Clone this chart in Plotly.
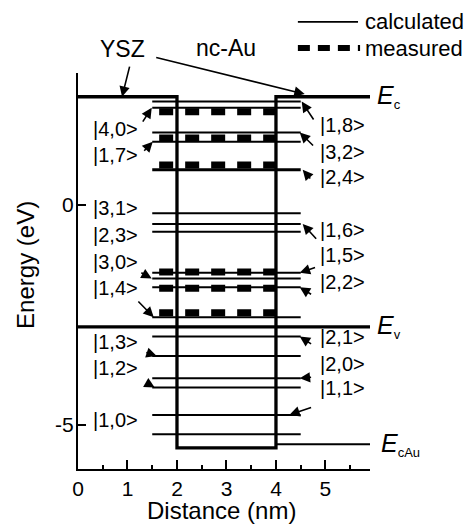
import plotly.graph_objects as go

# ---------------- data ----------------
distance_ticks = [0, 1, 2, 3, 4, 5]
energy_ticks = [-5, 0]

well_edges = [2.0, 4.0]          # nc-Au region (nm)
E_c = 2.46                       # YSZ conduction band edge (eV)
E_v = -2.77                      # valence band edge (eV)
E_well_bottom = -5.52            # bottom of nc-Au well (eV)
E_cAu = -5.44                    # Au conduction band edge (eV)

calc_span = [1.5, 4.5]           # extent of calculated level lines (nm)
meas_span = [1.64, 4.0]          # extent of measured level lines (nm)

calc_levels = [2.35, 2.21, 1.65, 1.44, 0.80, -0.19, -0.43, -0.61, -1.54,
               -1.67, -1.87, -2.55, -2.99, -3.43, -3.94, -4.15, -4.77, -5.21]
calc_labels = ["|1,8>", "|4,0>", "|3,2>", "|1,7>", "|2,4>", "|3,1>", "|1,6>",
               "|2,3>", "|1,5>", "|3,0>", "|2,2>", "|1,4>", "|2,1>", "|1,3>",
               "|2,0>", "|1,2>", "|1,1>", "|1,0>"]
meas_levels = [2.12, 1.52, 0.91, -1.52, -1.89, -2.45]

# ---------------- layout helpers (positions / styles) ----------------
X_MAX = 5.9
Y_MIN, Y_MAX = -6.0, 3.0
FONT = "Liberation Sans, Arial, sans-serif"
thick_labels = {"|2,4>"}

# side, label text y, arrow tail (x, y), arrow head x ; None = no arrow
label_layout = {
    "|4,0>": ("L", 1.73, (1.29, 1.86), 1.49),
    "|1,7>": ("L", 1.14, (1.31, 1.20), 1.51),
    "|3,1>": ("L", -0.07, None, None),
    "|2,3>": ("L", -0.68, None, None),
    "|3,0>": ("L", -1.30, (1.25, -1.52), 1.49),
    "|1,4>": ("L", -1.89, (1.19, -2.16), 1.53),
    "|1,3>": ("L", -3.11, (1.35, -3.34), 1.59),
    "|1,2>": ("L", -3.70, (1.35, -4.02), 1.55),
    "|1,0>": ("L", -4.89, None, None),
    "|1,8>": ("R", 1.82, (4.78, 1.91), 4.52),
    "|3,2>": ("R", 1.20, (4.78, 1.32), 4.48),
    "|2,4>": ("R", 0.64, (4.72, 0.57), 4.54),
    "|1,6>": ("R", -0.57, (4.84, -0.80), 4.54),
    "|1,5>": ("R", -1.14, (4.82, -1.41), 4.48),
    "|2,2>": ("R", -1.75, (4.74, -2.05), 4.48),
    "|2,1>": ("R", -3.00, (4.74, -3.18), 4.48),
    "|2,0>": ("R", -3.61, (4.74, -3.91), 4.48),
    "|1,1>": ("R", -4.16, (4.74, -4.59), 4.27),
}

fig = go.Figure()

common = dict(mode="lines", showlegend=False, hoverinfo="skip")

# measured levels (thick dashes)
mx, my = [], []
for e in meas_levels:
    mx += [meas_span[0], meas_span[1], None]
    my += [e, e, None]
fig.add_trace(go.Scatter(x=mx, y=my, line=dict(color="black", width=7, dash="14px,12px"), **common))

# calculated levels
cx, cy, tx, ty = [], [], [], []
for e, lab in zip(calc_levels, calc_labels):
    if lab in thick_labels:
        tx += [calc_span[0], calc_span[1], None]
        ty += [e, e, None]
    else:
        cx += [calc_span[0], calc_span[1], None]
        cy += [e, e, None]
fig.add_trace(go.Scatter(x=cx, y=cy, line=dict(color="black", width=2), **common))
fig.add_trace(go.Scatter(x=tx, y=ty, line=dict(color="black", width=3), **common))

# band structure
fig.add_trace(go.Scatter(
    x=[0, well_edges[0], well_edges[0], well_edges[1], well_edges[1], X_MAX],
    y=[E_c, E_c, E_well_bottom, E_well_bottom, E_c, E_c],
    line=dict(color="black", width=3.3), **common))
fig.add_trace(go.Scatter(x=[0, X_MAX], y=[E_v, E_v], line=dict(color="black", width=3.3), **common))
fig.add_trace(go.Scatter(x=[well_edges[1], X_MAX], y=[E_cAu, E_cAu], line=dict(color="black", width=2), **common))

ann = []
arrow = dict(showarrow=True, arrowhead=2, arrowsize=1.3, arrowwidth=1.6, arrowcolor="black",
             axref="x", ayref="y", xref="x", yref="y", text="", standoff=0)

LBL = dict(size=20, family=FONT, color="black")
for e, lab in zip(calc_levels, calc_labels):
    side, ty_, tail, hx = label_layout[lab]
    if side == "L":
        ann.append(dict(x=1.25, y=ty_, xref="x", yref="y", text=lab, showarrow=False,
                        xanchor="right", yanchor="middle", font=LBL))
    else:
        ann.append(dict(x=4.84, y=ty_, xref="x", yref="y", text=lab, showarrow=False,
                        xanchor="left", yanchor="middle", font=LBL))
    if tail is not None:
        ann.append(dict(x=hx, y=e, ax=tail[0], ay=tail[1], **arrow))

# YSZ / nc-Au labels and arrows
ann.append(dict(x=0.151, y=1.061, xref="paper", yref="paper", text="YSZ", showarrow=False,
                xanchor="center", yanchor="middle", font=dict(size=23, family=FONT, color="black")))
ann.append(dict(x=0.507, y=1.063, xref="paper", yref="paper", text="nc-Au", showarrow=False,
                xanchor="center", yanchor="middle", font=dict(size=23, family=FONT, color="black")))
ann.append(dict(x=0.89, y=E_c, ax=1.05, ay=3.18, **arrow))
ann.append(dict(x=4.58, y=E_c + 0.06, ax=1.55, ay=3.36, **arrow))

# band-edge labels
SUB = "<sub><span style='font-size:13px'>%s</span></sub>"
ann.append(dict(x=1.017, y=E_c, xref="paper", yref="y", text="<i>E</i>" + SUB % "c", showarrow=False,
                xanchor="left", yanchor="middle", font=dict(size=25, family=FONT, color="black")))
ann.append(dict(x=1.017, y=E_v, xref="paper", yref="y", text="<i>E</i>" + SUB % "v", showarrow=False,
                xanchor="left", yanchor="middle", font=dict(size=25, family=FONT, color="black")))
ann.append(dict(x=1.03, y=E_cAu, xref="paper", yref="y", text="<i>E</i>" + SUB % "cAu", showarrow=False,
                xanchor="left", yanchor="middle", font=dict(size=25, family=FONT, color="black")))

# axis titles
ann.append(dict(x=0.49, y=-0.104, xref="paper", yref="paper", text="Distance (nm)", showarrow=False,
                xanchor="center", yanchor="middle", font=dict(size=24, family=FONT, color="black")))
ann.append(dict(x=-0.182, y=0.515, xref="paper", yref="paper", text="Energy (eV)", showarrow=False,
                textangle=-90, xanchor="center", yanchor="middle", font=dict(size=24, family=FONT, color="black")))

# legend (drawn)
ann.append(dict(x=0.976, y=1.129, xref="paper", yref="paper", text="calculated", showarrow=False,
                xanchor="left", yanchor="middle", font=dict(size=22, family=FONT, color="black")))
ann.append(dict(x=0.976, y=1.063, xref="paper", yref="paper", text="measured", showarrow=False,
                xanchor="left", yanchor="middle", font=dict(size=22, family=FONT, color="black")))
shapes = [
    dict(type="line", xref="paper", yref="paper", x0=0.753, x1=0.959, y0=1.129, y1=1.129,
         line=dict(color="black", width=1.6)),
    dict(type="line", xref="paper", yref="paper", x0=0.753, x1=0.966, y0=1.063, y1=1.063,
         line=dict(color="black", width=6, dash="12px,8px")),
]

# page has an 8px body margin, so the figure is drawn 8px smaller
fig.update_layout(
    width=465, height=516,
    margin=dict(l=70, r=103, t=65, b=55),
    paper_bgcolor="white", plot_bgcolor="white",
    font=dict(family=FONT, color="black"),
    annotations=ann, shapes=shapes,
    showlegend=False,
)
fig.update_xaxes(range=[0, X_MAX], tickvals=distance_ticks, ticktext=[str(v) for v in distance_ticks],
                 ticks="inside", ticklen=9, tickwidth=2, tickcolor="black",
                 minor=dict(dtick=0.5, ticks="inside", ticklen=4, tickwidth=1.5, tickcolor="black"),
                 showline=True, linecolor="black", linewidth=2, showgrid=False, zeroline=False,
                 tickfont=dict(size=21, family=FONT, color="black"), ticklabelstandoff=0)
fig.update_yaxes(range=[Y_MIN, Y_MAX], tickvals=energy_ticks, ticktext=[str(v) for v in energy_ticks],
                 ticks="inside", ticklen=8, tickwidth=2, tickcolor="black",
                 showline=True, linecolor="black", linewidth=2, showgrid=False, zeroline=False,
                 tickfont=dict(size=21, family=FONT, color="black"), ticklabelstandoff=-2)

fig.write_html("out.html")
